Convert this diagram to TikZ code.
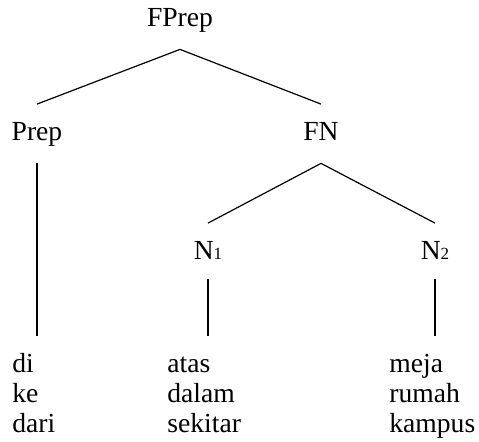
\documentclass[tikz,border=0pt]{standalone}
\usepackage{fontspec}
\setmainfont{Liberation Serif}
\usepackage{tikz}
\newcommand\idx[1]{{\fontsize{8.5}{9}\selectfont #1}}
\tikzstyle{cat}=[inner sep=0,anchor=base,font=\fontsize{13.8}{16}\selectfont,
                 text height=18.25pt,text depth=11pt]
\tikzstyle{leaf}=[inner sep=0,anchor=base west,font=\fontsize{13.8}{16}\selectfont,
                  text height=8.5pt,text depth=2.5pt]
\tikzstyle{branch}=[line width=0.6pt]

\begin{document}
\begin{tikzpicture}[x=0.5pt,y=-0.5pt]
  \useasboundingbox (0,0) rectangle (479,442);
  \def\dy{30}

  % CATEGORIES
  \node[cat] (FPrep) at (180,27) {FPrep};
  \node[cat] (Prep) at (37,141) {Prep};
  \node[cat] (FN) at (321,141) {FN};
  \node[cat,text depth=9.5pt] (N1) at (208,260) {N\idx{1}};
  \node[cat,text depth=9.5pt] (N2) at (435,260) {N\idx{2}};

  % WORDS
  \foreach \w [count=\i] in {di,ke,dari}{
    \node[leaf] (prep\i) at (12,373+\i*\dy-\dy) {\w};
  }
  \foreach \w [count=\i] in {atas,dalam,sekitar}{
    \node[leaf] (noun\i) at (167,373+\i*\dy-\dy) {\w};
  }
  \foreach \w [count=\i] in {meja,rumah,kampus}{
    \node[leaf] (place\i) at (389,373+\i*\dy-\dy) {\w};
  }

  % BRANCHES
  \draw[branch] (FPrep.south) -- (Prep.north);
  \draw[branch] (FPrep.south) -- (FN.north);
  \draw[branch] (FN.south) -- (N1.north);
  \draw[branch] (FN.south) -- (N2.north);
  \draw[branch,shorten >=10pt] (Prep.south) -- (Prep.south |- prep1.north);
  \draw[branch,shorten >=10pt] (N1.south) -- (N1.south |- noun1.north);
  \draw[branch,shorten >=10pt] (N2.south) -- (N2.south |- place1.north);

\end{tikzpicture}
\end{document}
